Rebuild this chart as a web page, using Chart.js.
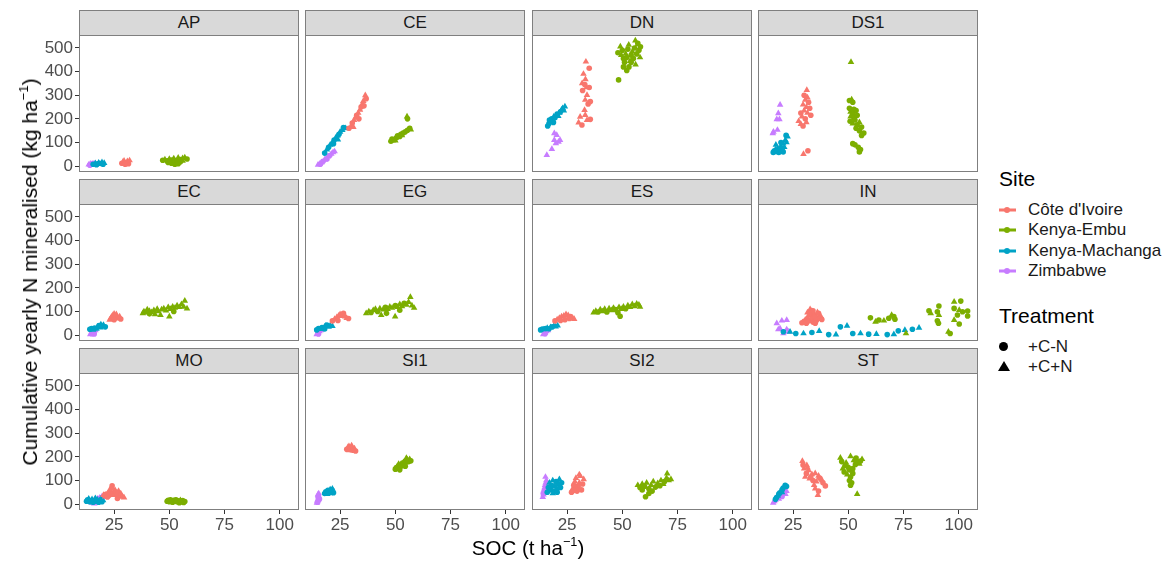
<!DOCTYPE html>
<html>
<head>
<meta charset="utf-8">
<script src="https://cdn.jsdelivr.net/npm/chart.js@4"></script>
<style>
  html, body { margin:0; padding:0; background:#fff; }
  body { width:1168px; height:564px; position:relative; overflow:hidden; font-family:"Liberation Sans", Arial, sans-serif; }
  .abs { position:absolute; }
  .strip { position:absolute; background:#D9D9D9; border:1px solid #7f7f7f; box-sizing:border-box; text-align:center; font-size:17px; color:#1a1a1a; line-height:24px; }
  .ytitle { position:absolute; left:30px; top:272px; transform:translate(-50%,-50%) rotate(-90deg); white-space:nowrap; font-size:21px; line-height:24px; color:#000; }
  .xtitle { position:absolute; left:528px; top:536px; transform:translateX(-50%); white-space:nowrap; font-size:20.5px; color:#000; }
  sup { font-size:0.62em; vertical-align:0.7em; line-height:0; }
  .lgtitle { position:absolute; left:999px; font-size:21px; color:#000; white-space:nowrap; }
  .lgtext { position:absolute; left:1028px; font-size:17px; color:#1a1a1a; white-space:nowrap; transform:translateY(-50%); }
  .lgline { position:absolute; left:999px; width:17px; height:3px; transform:translateY(-50%); }
  .lgdot { position:absolute; left:1004px; width:6px; height:6px; border-radius:50%; transform:translateY(-50%); }
</style>
</head>
<body>
<script>
// ---------------- data ----------------
const PANELS = ['AP','CE','DN','DS1','EC','EG','ES','IN','MO','SI1','SI2','ST'];
const SITES = ["Côte d'Ivoire","Kenya-Embu","Kenya-Machanga","Zimbabwe"];
const SITE_COLORS = ['#F8766D','#7CAE00','#00A3C6','#C77CFF'];
const TREATMENTS = ['+C-N','+C+N'];
const X_TICKS = [25,50,75,100];
const Y_TICKS = [0,100,200,300,400,500];
// each point: [SOC, cumulative N, treatment (0 = +C-N, 1 = +C+N)]

const AP_civ = [[28.5,12,0],[29,18,1],[29.5,22,1],[30.5,15,0],[31,20,1],[31.5,10,0],[32,24,1],[30,8,0]];
const AP_kem = [[47,25,0],[48,28,1],[49,22,0],[50,30,1],[51,26,0],[52,32,1],[53,24,0],[54,35,1],[55,28,0],[56,33,1],[57,36,1],[58,30,0],[49.5,15,0],[51,12,0],[52.5,8,0],[53.5,14,0],[55,18,0],[50,20,1],[56,22,1],[54,10,0]];
const AP_kma = [[15.5,8,0],[16.5,12,1],[17.5,10,0],[18,14,1],[19,11,0],[19.5,16,1],[20.5,13,1],[17,6,0],[18.5,9,1],[20,8,0]];
const AP_zim = [[13.5,6,1],[14.2,10,1],[15,8,1],[15.5,12,0],[14,4,0],[16,9,1]];

const CE_civ = [[29,160,0],[30,170,1],[30.5,182,0],[31.3,195,1],[32,205,1],[32.5,215,0],[33.2,225,1],[34,238,1],[34.5,250,0],[35,262,1],[35.5,275,1],[36.4,300,1],[36.8,285,0],[33.5,200,0],[31,165,1],[35.8,255,0]];
const CE_kem = [[48,105,0],[48.5,115,0],[49.5,112,0],[50.5,120,0],[51,128,0],[52,125,0],[52.5,135,0],[53.5,140,0],[54.5,145,0],[55.5,152,0],[56.5,160,0],[57,155,1],[50,108,1],[53,130,1],[55.3,210,1],[55.5,200,0]];
const CE_kma = [[18,55,0],[19,70,1],[19.8,80,0],[20.5,90,1],[21.5,100,1],[22.3,110,0],[23,120,1],[23.8,128,1],[24.5,135,0],[25,145,1],[26,152,1],[26.5,163,0],[24,112,1],[22,95,0],[27.5,160,1]];
const CE_zim = [[15,5,1],[15.8,10,1],[16.5,15,1],[17.3,20,0],[18,28,1],[18.8,33,1],[19.5,40,1],[20.3,45,0],[21,52,1],[21.8,58,1],[22.5,62,1],[16,8,0],[19,30,0]];

const DN_civ = [[33.5,442,1],[35,414,0],[32.4,390,1],[33.3,367,1],[31.8,350,1],[33.8,333,1],[35,333,0],[34,301,1],[33.2,280,1],[34.5,263,0],[35.5,273,0],[32.9,237,1],[30.9,209,1],[33.2,216,1],[35.5,198,0],[30.2,184,1],[31.7,174,0],[34,195,1],[32,320,0],[33,345,0]];
const DN_kem = [[55.9,531,1],[52.9,513,1],[49.1,506,1],[57,515,1],[48.3,365,0],[48,480,0],[49.5,470,1],[50,490,0],[50.5,455,0],[51,440,0],[51.5,475,1],[52,460,0],[52.5,495,0],[53,420,0],[53.5,445,1],[54,470,0],[54.5,485,1],[55,455,0],[55.5,500,0],[56,430,1],[56.5,475,0],[57.5,490,0],[58,460,1],[50.5,420,0],[52,405,0],[54,440,0],[57,520,0],[58.2,505,0]];
const DN_kma = [[16.2,170,0],[16.8,180,0],[17.5,190,1],[18,200,0],[18.5,195,1],[19,210,1],[19.5,205,0],[20,215,1],[20.5,220,0],[21,212,1],[21.5,225,1],[22,230,0],[22.5,238,1],[23,245,1],[23.5,235,1],[24,252,1],[17,195,0],[18.8,185,0]];
const DN_zim = [[15.8,47,1],[18.1,72,1],[19.2,110,1],[20.3,131,1],[19.2,139,1],[21.1,103,1],[21.8,110,1],[19.9,96,1]];

const DS1_civ = [[31.2,322,1],[29.7,51,1],[31.7,65,0],[30,300,0],[31.5,290,1],[30.5,280,1],[32,270,0],[29.5,260,1],[31,250,1],[32.5,245,0],[30,235,1],[28.5,225,0],[31.5,225,1],[29,210,1],[30.5,200,0],[27.5,190,1],[28.5,178,1],[29.5,170,0],[31,185,1],[33,215,0]];
const DS1_kem = [[51.2,440,1],[50.5,278,0],[51.5,282,1],[52,270,0],[50.5,245,0],[51,230,1],[52.5,240,0],[53.5,235,0],[52,220,0],[51,210,1],[52.5,205,0],[54,215,0],[50.8,190,0],[52,180,1],[53,195,0],[54,175,0],[55,185,1],[53.5,160,0],[55,150,0],[56,165,0],[57,140,0],[56,130,0],[52,95,0],[53,90,0],[54.5,80,0],[55.5,70,0],[55,60,0]];
const DS1_kma = [[16,58,0],[16.5,65,0],[17,70,1],[17.5,62,0],[18,75,1],[18.5,58,0],[19,68,0],[19.5,85,1],[20,72,0],[20.5,95,1],[21,80,1],[21.5,110,1],[22,100,1],[22.5,125,1],[20.5,60,0],[17.2,90,1],[19.5,100,0],[21.8,130,0]];
const DS1_zim = [[19.1,259,1],[18.3,223,1],[17.6,198,1],[18.8,198,1],[16.1,145,1],[17.9,153,1],[15.8,139,1]];

const EC_civ = [[23,65,1],[23.5,72,1],[24,78,1],[24.5,85,1],[25,90,1],[25.5,82,0],[26,88,1],[26.5,75,1],[27,70,1],[27.5,78,1],[28,68,0],[25,65,0]];
const EC_kem = [[38,92,1],[38.5,100,1],[39.5,95,1],[40,108,1],[41,102,1],[42,96,1],[43,105,1],[43.5,88,1],[44.5,110,1],[45,100,1],[46,85,1],[46.5,108,1],[47.5,112,1],[48.5,104,1],[49.5,118,1],[50,78,1],[50.5,110,1],[51.5,120,1],[52.5,115,1],[53.5,125,1],[54.5,118,1],[55.5,130,1],[56.5,120,1],[57,145,1],[58,112,1],[41,90,0],[52,100,0]];
const EC_kma = [[14,25,0],[14.8,28,0],[15.5,22,1],[16.2,30,0],[17,26,1],[17.5,35,1],[18.2,40,0],[18.8,32,1],[19.5,38,1],[20.2,42,1],[21,35,0],[19,45,1]];
const EC_zim = [[14.2,3,1],[15,10,1],[15.8,15,1],[16.5,20,1],[14.8,6,0],[16,5,0]];

const EG_civ = [[21.5,60,0],[22.5,68,1],[23.5,75,1],[24.3,82,1],[25,88,1],[25.8,80,1],[26.5,92,0],[27.3,78,1],[28,72,1],[28.8,70,0],[24,62,0]];
const EG_kem = [[36.8,92,1],[38,100,1],[39,96,0],[40,105,1],[41,110,1],[42,100,0],[43,112,1],[43.6,85,1],[44.5,108,1],[45.5,118,0],[46.5,110,1],[47.5,120,1],[48.5,115,1],[49.9,78,1],[50,125,0],[51,118,1],[52,130,1],[53,122,1],[54,135,0],[55,128,1],[56,140,1],[56.8,161,1],[57.5,125,1],[58.5,115,1],[46,92,0],[52,105,0]];
const EG_kma = [[14.4,22,0],[15.2,28,0],[16,25,1],[16.8,32,0],[17.5,30,1],[18.3,38,1],[19,42,0],[19.8,35,1],[20.5,40,1],[21.5,38,1],[18,26,0]];
const EG_zim = [[14.4,3,1],[15,10,1],[15.6,16,1],[16.3,20,1],[15.2,5,0]];

const ES_civ = [[19.5,60,0],[20.5,66,1],[21.5,72,1],[22.5,78,1],[23.5,82,1],[24.5,88,1],[25.5,84,1],[26.5,78,0],[27.5,72,1],[28.2,68,1],[24,65,0],[22,62,0],[26,70,0]];
const ES_kem = [[37,95,1],[38,102,1],[39,98,0],[40,108,1],[41,100,1],[42,110,1],[43,98,0],[44,112,1],[45,105,1],[46,115,1],[47,108,0],[48,95,0],[48.5,118,1],[49.5,110,1],[50.5,120,1],[51.5,112,0],[52.5,125,1],[53.5,118,1],[54.5,130,1],[55.5,122,1],[56.5,132,1],[57.5,128,1],[58,120,1],[49,80,0]];
const ES_kma = [[13,22,0],[13.8,26,0],[14.5,24,1],[15.3,28,0],[16,30,1],[16.8,27,0],[17.5,33,1],[18.3,35,0],[19,38,1],[19.8,36,1],[20.7,40,1]];
const ES_zim = [[14.2,3,1],[15,10,1],[15.6,16,1],[16.3,20,1],[15,6,0]];

const IN_civ = [[29,52,0],[30,58,0],[30.5,65,1],[31,50,0],[31.5,75,1],[32,60,0],[32.5,85,1],[32.7,109,1],[33,95,0],[33.5,70,0],[34,55,0],[34.5,88,1],[35,78,0],[35.5,62,0],[36,96,1],[36.5,92,0],[37,72,0],[37.5,80,1],[38,66,0],[31.5,95,1],[33.5,102,1],[35,50,0],[34,103,0]];
const IN_kem = [[60,73,0],[62.3,56,1],[63.8,64,0],[66.1,61,1],[68.3,71,0],[69.6,85,1],[70.6,78,0],[71.1,67,0],[76.1,7,1],[86.5,103,0],[87.3,92,1],[91,123,0],[90.3,99,0],[91,85,1],[90.3,61,0],[90.8,50,0],[95.3,14,1],[96.1,7,0],[97.9,141,1],[100.9,144,0],[97.9,113,0],[100.2,106,1],[99.4,85,0],[101.7,99,0],[104,102,0],[97.9,64,1],[100.2,47,0],[104,81,0]];
const IN_kma = [[20.6,14,0],[23.6,14,1],[26.2,7,0],[29.7,7,1],[33.5,11,0],[36.8,17,1],[41.1,2,0],[44.4,2,1],[46.4,35,0],[49.4,39,1],[52,7,0],[55.5,7,1],[59.2,4,0],[62.7,4,1],[67.6,2,0],[70.6,3,1],[72.6,18,0],[75.6,21,1],[79,25,0],[82,31,1]];
const IN_zim = [[17.6,50,1],[19.9,61,1],[22.1,64,1],[19.1,28,1],[22.1,24,1],[20.6,7,1],[22.9,14,1],[18.3,24,1]];

const MO_civ = [[20.2,38,1],[21,32,1],[21.5,42,0],[22,35,1],[22.5,48,1],[23,40,0],[23.5,55,1],[24.1,77,0],[24.5,65,1],[24.5,45,0],[25,38,1],[25.5,58,1],[26,50,0],[26.5,24,0],[26.5,42,1],[27,55,1],[27.5,35,1],[28,45,1],[28.8,31,1],[29.5,28,1],[23,60,1],[22,30,0]];
const MO_kem = [[49,12,0],[49.5,16,0],[50,10,0],[50.5,18,0],[51,14,0],[51.5,8,0],[52,16,0],[52.5,12,0],[53,18,0],[53.5,10,0],[54,14,0],[54.5,6,0],[55,12,0],[55.5,9,0],[56,15,0],[56.5,7,0],[57,11,0],[50.5,14,1],[53,14,1],[55,16,1]];
const MO_kma = [[12.5,12,0],[13,18,0],[13.5,22,1],[14,10,0],[14.5,15,0],[15,20,1],[15.5,8,0],[16,14,0],[16.5,25,1],[17,12,0],[17.5,18,1],[18,8,0],[18.5,15,1],[19,22,1],[19.5,10,0],[20,16,1]];
const MO_zim = [[15,5,1],[15.5,12,1],[16,10,1],[16.5,18,1],[17,15,0],[17.5,22,1],[18,20,1],[18.5,27,1],[19,25,0],[19.5,32,1],[20,30,1],[20.5,35,1],[16,2,1]];

const SI1_civ = [[28,232,0],[28.5,240,1],[29,245,1],[29.5,236,0],[30,230,0],[30.5,240,1],[31,228,0],[31.5,235,1],[32,225,0],[29,228,1],[30.2,248,1]];
const SI1_kem = [[50,148,0],[50.5,155,0],[51,152,1],[51.5,162,0],[52,158,0],[52.5,168,1],[53,162,0],[53.5,175,0],[54,170,1],[54.5,182,0],[55,178,0],[55.5,188,1],[56,180,0],[56.5,190,1],[57,183,0],[52,145,0],[54.5,160,0],[51.5,170,1],[55,195,1]];
const SI1_kma = [[18,45,0],[18.5,52,0],[19,48,1],[19.5,58,0],[20,50,0],[20.5,62,1],[21,55,0],[21.5,65,1],[22,48,0],[19.2,42,1],[20.3,45,1],[21.2,60,0]];
const SI1_zim = [[14.5,5,1],[14.8,12,1],[15,18,1],[15.2,25,1],[15.5,32,1],[15,40,1],[15.3,45,1],[14.7,8,0],[15.6,20,0],[15,30,0]];

const SI2_civ = [[27,50,0],[27.5,65,1],[28,80,0],[28.5,95,1],[29,110,1],[29.5,55,0],[30,75,0],[30.5,90,1],[31,118,1],[31.5,60,0],[32,85,0],[32.5,105,1],[29,70,1],[30.5,125,1],[28,58,0]];
const SI2_kem = [[57,80,1],[58,70,0],[59,85,1],[60,75,0],[60.5,31,0],[61,90,1],[62,65,0],[63,80,1],[63.5,55,0],[64,95,1],[65,72,0],[66,88,1],[67,78,0],[67.5,100,1],[68.5,85,1],[69,95,0],[70,110,1],[70.3,129,1],[71,100,1],[72,105,1],[62,45,0],[59,60,0]];
const SI2_kma = [[16,50,0],[16.5,70,0],[17,90,1],[17.5,60,0],[18,80,0],[18.5,100,1],[19,55,0],[19.5,75,1],[20,95,0],[20.5,65,0],[21,85,1],[21.5,105,1],[22,70,0],[22.5,90,0],[18.5,45,1],[20.5,50,0]];
const SI2_zim = [[14,30,1],[14.3,40,1],[14.6,50,1],[14.5,60,1],[14.8,70,1],[15,80,1],[15.3,90,1],[15.6,100,1],[15.2,115,1],[14.2,45,0],[15.4,62,0],[15.8,75,0]];

const ST_civ = [[29.2,182,1],[31.2,164,1],[32,143,1],[33.5,126,1],[30.5,115,1],[36.5,120,1],[38.1,101,1],[39.6,77,0],[35,66,1],[36.2,38,1],[30,150,1],[31,130,0],[32.5,108,1],[34,100,0],[35.5,95,1],[37,110,0],[34.5,80,1],[36.5,55,0],[33,115,0],[38.5,90,0],[29.5,165,0],[31.5,155,1],[35,130,1]];
const ST_kem = [[46.4,196,1],[51,202,1],[56.2,190,1],[48.6,164,0],[53.2,168,0],[48.1,136,0],[51,115,0],[51,80,0],[54,42,1],[47,180,0],[49,175,1],[50,155,0],[50.5,145,0],[52,150,0],[52.5,185,1],[54,178,0],[55,170,1],[55.5,182,0],[49.5,125,1],[50.5,100,0],[51.5,90,0],[53.5,195,0],[47.5,150,1],[52,130,0]];
const ST_kma = [[17,20,0],[17.5,28,0],[18,35,1],[18.5,42,0],[19,48,0],[19.5,55,1],[20,60,0],[20.5,68,0],[21,72,1],[21.4,80,0],[22,75,0],[20,50,1]];
const ST_zim = [[16,5,1],[16.5,12,1],[17,18,1],[17.5,25,1],[18,30,0],[18.5,22,1],[19,35,1],[19.5,40,1],[20,32,0],[20.5,45,1],[21,50,1],[22,55,1],[21.5,42,1]];

const PANEL_DATA = {
  AP:[AP_civ,AP_kem,AP_kma,AP_zim], CE:[CE_civ,CE_kem,CE_kma,CE_zim],
  DN:[DN_civ,DN_kem,DN_kma,DN_zim], DS1:[DS1_civ,DS1_kem,DS1_kma,DS1_zim],
  EC:[EC_civ,EC_kem,EC_kma,EC_zim], EG:[EG_civ,EG_kem,EG_kma,EG_zim],
  ES:[ES_civ,ES_kem,ES_kma,ES_zim], IN:[IN_civ,IN_kem,IN_kma,IN_zim],
  MO:[MO_civ,MO_kem,MO_kma,MO_zim], SI1:[SI1_civ,SI1_kem,SI1_kma,SI1_zim],
  SI2:[SI2_civ,SI2_kem,SI2_kma,SI2_zim], ST:[ST_civ,ST_kem,ST_kma,ST_zim]
};

// ---------------- layout ----------------
const COL_L = [79, 305, 532, 758];
const ROW_STRIP_T = [10, 179, 348];
const STRIP_H = 25;
const PLOT_W = 220, PLOT_H = 137;
const FONT = '"Liberation Sans", Arial, sans-serif';

const borderPlugin = {
  id: 'panelBorder',
  afterDraw(chart) {
    const { ctx, chartArea: a } = chart;
    ctx.save();
    ctx.strokeStyle = '#7f7f7f';
    ctx.lineWidth = 1;
    ctx.strokeRect(Math.round(a.left) + 0.5, Math.round(a.top) + 0.5, Math.round(a.right - a.left) - 1, Math.round(a.bottom - a.top) - 1);
    ctx.restore();
  }
};

function addEl(cls, html, style) {
  const d = document.createElement('div');
  d.className = cls; d.innerHTML = html;
  Object.assign(d.style, style);
  document.body.appendChild(d);
  return d;
}

PANELS.forEach((name, idx) => {
  const c = idx % 4, r = Math.floor(idx / 4);
  const L = COL_L[c], ST = ROW_STRIP_T[r], T = ST + STRIP_H;
  addEl('strip', name, { left: L + 'px', top: ST + 'px', width: PLOT_W + 'px', height: (STRIP_H + 1) + 'px' });
  const showY = c === 0, showX = r === 2;
  const padL = showY ? 40 : 0, padB = showX ? 32 : 0;
  const cv = document.createElement('canvas');
  cv.width = PLOT_W + padL; cv.height = PLOT_H + padB;
  Object.assign(cv.style, { position: 'absolute', left: (L - padL) + 'px', top: T + 'px', width: cv.width + 'px', height: cv.height + 'px' });
  document.body.appendChild(cv);

  const datasets = PANEL_DATA[name].map((arr, s) => ({
    label: SITES[s],
    data: arr.map(p => ({ x: p[0], y: p[1], t: p[2] })),
    backgroundColor: SITE_COLORS[s],
    borderWidth: 0,
    pointStyle: ctx => (ctx.raw && ctx.raw.t ? 'triangle' : 'circle'),
    pointRadius: ctx => (ctx.raw && ctx.raw.t ? 3.8 : 2.8),
  }));

  const tickFont = { family: FONT, size: 17 };
  new Chart(cv, {
    type: 'scatter',
    data: { datasets },
    plugins: [borderPlugin],
    options: {
      responsive: false, animation: false, devicePixelRatio: 1,
      layout: { padding: 0, autoPadding: false },
      plugins: { legend: { display: false }, tooltip: { enabled: false } },
      scales: {
        x: {
          type: 'linear', min: 9.1, max: 108.7, display: showX,
          afterBuildTicks: s => { s.ticks = X_TICKS.map(v => ({ value: v })); },
          afterFit: s => { s.height = padB; s.paddingLeft = 0; s.paddingRight = 0; },
          grid: { drawOnChartArea: false, drawTicks: true, tickLength: 4, color: '#333333', lineWidth: 1 },
          border: { display: false },
          ticks: { font: tickFont, color: '#4d4d4d', padding: 1, maxRotation: 0, autoSkip: false }
        },
        y: {
          type: 'linear', min: -25, max: 555, display: showY,
          afterBuildTicks: s => { s.ticks = Y_TICKS.map(v => ({ value: v })); },
          afterFit: s => { s.width = padL; s.paddingTop = 0; s.paddingBottom = 0; },
          grid: { drawOnChartArea: false, drawTicks: true, tickLength: 4, color: '#333333', lineWidth: 1 },
          border: { display: false },
          ticks: { font: tickFont, color: '#4d4d4d', padding: 2, autoSkip: false }
        }
      }
    }
  });
});

// axis titles
addEl('ytitle', 'Cumulative yearly N mineralised (kg ha<sup>−1</sup>)', {});
addEl('xtitle', 'SOC (t ha<sup>−1</sup>)', {});

// legend
addEl('lgtitle', 'Site', { top: '167px' });
const LG_Y = [210, 230, 251, 271];
SITES.forEach((s, i) => {
  addEl('lgline', '', { top: LG_Y[i] + 'px', background: SITE_COLORS[i] });
  addEl('lgdot', '', { top: LG_Y[i] + 'px', background: SITE_COLORS[i] });
  addEl('lgtext', s, { top: LG_Y[i] + 'px' });
});
addEl('lgtitle', 'Treatment', { top: '304px' });
addEl('abs', '', { left: '999px', top: '342px', width: '9px', height: '9px', borderRadius: '50%', background: '#000' });
addEl('abs', '', { left: '998px', top: '361px', width: '0', height: '0', borderLeft: '6px solid transparent', borderRight: '6px solid transparent', borderBottom: '10px solid #000' });
addEl('lgtext', TREATMENTS[0], { top: '347px' });
addEl('lgtext', TREATMENTS[1], { top: '367px' });
</script>
</body>
</html>
